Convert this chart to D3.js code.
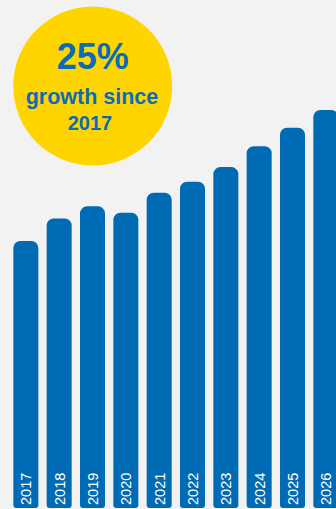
<!DOCTYPE html>
<html>
<head>
<meta charset="utf-8">
<script src="https://cdn.jsdelivr.net/npm/d3@7"></script>
<style>
  html, body { margin: 0; padding: 0; background: #f2f2f2; }
  svg { display: block; }
</style>
</head>
<body>
<div id="chart"></div>
<script>
// index values, 2017 = 100
const years = ["2017", "2018", "2019", "2020", "2021", "2022", "2023", "2024", "2025", "2026"];
const values = [100, 104.3, 106.6, 105.4, 109.2, 111.3, 114.1, 118.1, 121.6, 125];
const badgeLines = ["25%", "growth since", "2017"];

const width = 336, height = 509;
const svg = d3.select("#chart").append("svg")
	.attr("width", width)
	.attr("height", height);

svg.append("rect")
	.attr("width", width)
	.attr("height", height)
	.attr("fill", "#f2f2f2");

let x = d3.scaleBand()
	.domain(years)
	.range([9.17, 342.5])
	.paddingInner(0.25)
	.paddingOuter(0.125);

let y = d3.scaleLinear()
	.domain([49, 125])
	.range([508, 110]);

// rounded bar: big radius on top, small one at the bottom
function barPath(x0, y0, w, y1, rt, rb) {
	return `M${x0},${y0 + rt}` +
		`A${rt},${rt} 0 0 1 ${x0 + rt},${y0}` +
		`H${x0 + w - rt}` +
		`A${rt},${rt} 0 0 1 ${x0 + w},${y0 + rt}` +
		`V${y1 - rb}` +
		`A${rb},${rb} 0 0 1 ${x0 + w - rb},${y1}` +
		`H${x0 + rb}` +
		`A${rb},${rb} 0 0 1 ${x0},${y1 - rb}Z`;
}

svg.selectAll("path.bar")
	.data(years)
	.enter().append("path")
	.attr("class", "bar")
	.attr("fill", "#006bb5")
	.attr("d", (d, i) => barPath(x(d), y(values[i]), x.bandwidth(), y.range()[0], 7, 3));

svg.selectAll("text.year")
	.data(years)
	.enter().append("text")
	.attr("class", "year")
	.attr("transform", d => `translate(${x(d) + x.bandwidth() / 2 + 5.4},505) rotate(-90)`)
	.attr("fill", "#ffffff")
	.style("font", "14.5px 'Liberation Sans', Arial, sans-serif")
	.text(d => d);

// yellow badge
svg.append("circle")
	.attr("cx", 92.7)
	.attr("cy", 86)
	.attr("r", 79.5)
	.attr("fill", "#ffd500");

let badge = svg.append("g")
	.attr("fill", "#0a6cb5")
	.attr("text-anchor", "middle")
	.style("font-family", "'Liberation Sans', Arial, sans-serif")
	.style("font-weight", "bold");

badge.append("text")
	.attr("x", 92.7)
	.attr("y", 69)
	.style("font-size", "36px")
	.text(badgeLines[0]);

badge.append("text")
	.attr("x", 92)
	.attr("y", 104)
	.style("font-size", "21.5px")
	.text(badgeLines[1]);

badge.append("text")
	.attr("x", 90)
	.attr("y", 130)
	.style("font-size", "20px")
	.text(badgeLines[2]);
</script>
</body>
</html>
